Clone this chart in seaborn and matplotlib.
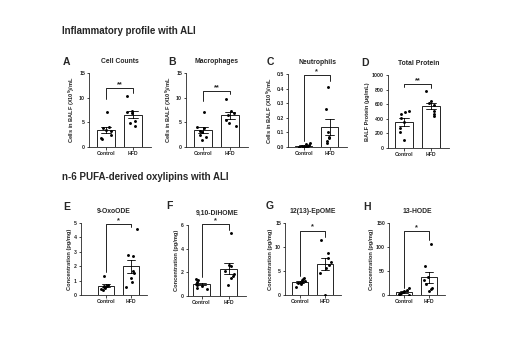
import numpy as np
import pandas as pd
import matplotlib
matplotlib.use("Agg")
import matplotlib.pyplot as plt
import seaborn as sns

sns.set_theme(style="ticks")
plt.rcParams['font.family'] = ['Liberation Sans', 'DejaVu Sans']
plt.rcParams['font.weight'] = 'bold'
plt.rcParams['axes.labelweight'] = 'bold'

groups = ["Control", "HFD"]

# ---- data ----
cell_ctrl = [7.1, 4.0, 3.8, 3.4, 3.2, 2.5, 1.8, 1.7]
cell_hfd = [10.3, 7.3, 7.0, 6.8, 5.3, 4.8, 4.3]
mac_ctrl = [7.0, 4.1, 3.8, 3.3, 3.0, 2.5, 2.0, 1.5]
mac_hfd = [9.8, 7.2, 6.8, 6.4, 5.5, 4.8, 4.2]
neu_ctrl = [0.03, 0.018, 0.012, 0.008, 0.005, 0.003, 0.001, 0.0]
neu_hfd = [0.41, 0.26, 0.10, 0.07, 0.04, 0.03, 0.06]
prot_ctrl = [510, 495, 470, 410, 350, 280, 225, 110]
prot_hfd = [775, 650, 610, 590, 510, 470, 445]
oxo_ctrl = [1.35, 0.72, 0.65, 0.60, 0.55, 0.50, 0.45, 0.38]
oxo_hfd = [4.6, 2.75, 2.7, 1.7, 1.5, 1.2, 0.9, 0.55]
dihome_ctrl = [1.4, 1.35, 1.2, 1.05, 0.95, 0.85, 0.7, 0.6]
dihome_hfd = [5.3, 2.65, 2.5, 2.1, 1.9, 1.7, 1.5, 0.9]
epome_ctrl = [3.5, 3.3, 3.1, 2.9, 2.7, 2.6, 2.2, 1.6]
epome_hfd = [11.5, 8.8, 7.8, 6.8, 6.3, 5.6, 4.6, 0.0]
hode_ctrl = [14, 10, 8, 6, 5, 3, 2, 1]
hode_hfd = [106, 61, 38, 31, 22, 15, 12, 8]

titles = ["Cell Counts", "Macrophages", "Neutrophils", "Total Protein",
          "9-OxoODE", "9,10-DiHOME", "12(13)-EpOME", "13-HODE"]
letters = ["A", "B", "C", "D", "E", "F", "G", "H"]
cells_lab = "Cells in BALF (X10$^{\\mathbf{5}}$)/mL"
ylabels = [cells_lab, cells_lab, cells_lab, "BALF Protein (µg/mL)",
           "Concentration (pg/mg)", "Concentration (pg/mg)",
           "Concentration (pg/mg)", "Concentration (pg/mg)"]
yticks = [[0, 5, 10, 15], [0, 5, 10, 15], [0.0, 0.1, 0.2, 0.3, 0.4, 0.5],
          [0, 200, 400, 600, 800, 1000], [0, 1, 2, 3, 4, 5], [0, 2, 4, 6],
          [0, 5, 10, 15], [0, 50, 100, 150]]
ytick_fmt = ["{:.0f}", "{:.0f}", "{:.1f}", "{:.0f}", "{:.0f}", "{:.0f}", "{:.0f}", "{:.0f}"]
stars = ["**", "**", "*", "**", "*", "*", "*", "*"]
# bracket: (height, left arm end, right arm end)
brackets = [(11.9, 9.7, 10.9), (11.3, 9.3, 10.7), (0.49, 0.04, 0.45),
            (880, 830, 820), (4.9, 1.6, 4.75), (6.1, 1.6, 5.6),
            (13.4, 4.0, 12.0), (133, 15, 115)]
datasets = [(cell_ctrl, cell_hfd), (mac_ctrl, mac_hfd), (neu_ctrl, neu_hfd),
            (prot_ctrl, prot_hfd), (oxo_ctrl, oxo_hfd), (dihome_ctrl, dihome_hfd),
            (epome_ctrl, epome_hfd), (hode_ctrl, hode_hfd)]

# ---- layout (pixels) ----
W, H, DPI = 510, 341, 100
fig = plt.figure(figsize=(W / DPI, H / DPI), dpi=DPI)
fig.patch.set_facecolor("white")

# x0, ytop, ybottom, xlim_left, px per unit
layout = [(89, 73, 147, -0.63, 27), (186, 73, 147, -0.63, 27),
          (288, 74, 147, -0.6, 26), (388, 75, 148, -0.6, 27),
          (81, 223, 295, -1.0, 25), (188, 225, 296, -0.5, 27),
          (285, 223, 295, -0.6, 25), (389, 223, 295, -0.6, 25)]
letter_pos = [(63, 62), (168, 62), (267, 62), (361, 63),
              (63, 207), (166, 206), (266, 206), (363, 207)]

fig.text(62 / W, 1 - 31 / H, "Inflammatory profile with ALI", fontsize=7.0,
         fontweight="bold", ha="left", va="center")
fig.text(62 / W, 1 - 177 / H, "n-6 PUFA-derived oxylipins with ALI", fontsize=7.0,
         fontweight="bold", ha="left", va="center")

np.random.seed(3)
lw = 0.6
for i, (ctrl, hfd) in enumerate(datasets):
    x0, yt, yb, xl, ppu = layout[i]
    xr = 1.65
    width_px = (xr - xl) * ppu
    ax = fig.add_axes([x0 / W, 1 - yb / H, width_px / W, (yb - yt) / H])
    df = pd.DataFrame({"group": [groups[0]] * len(ctrl) + [groups[1]] * len(hfd),
                       "value": list(ctrl) + list(hfd)})
    sns.barplot(data=df, x="group", y="value", order=groups, errorbar="se",
                color="white", edgecolor="black", linewidth=lw, width=0.65,
                capsize=0.35, err_kws={"color": "black", "linewidth": lw}, ax=ax)
    sns.stripplot(data=df, x="group", y="value", order=groups, color="black",
                  size=2.1, jitter=0.24, ax=ax, zorder=5)
    yt_list = yticks[i]
    ax.set_ylim(0, yt_list[-1])
    ax.set_xlim(xl, xr)
    ax.set_yticks(yt_list)
    ax.set_yticklabels([ytick_fmt[i].format(v) for v in yt_list])
    ax.tick_params(axis="both", labelsize=3.7, width=lw, length=1.8, pad=1)
    for lab in ax.get_xticklabels() + ax.get_yticklabels():
        lab.set_fontweight("bold")
    ax.set_xlabel("")
    ax.set_ylabel(ylabels[i], fontsize=4.1, fontweight="bold", labelpad=1.5)
    for s in ["top", "right"]:
        ax.spines[s].set_visible(False)
    for s in ["left", "bottom"]:
        ax.spines[s].set_linewidth(lw)
    ax.set_facecolor("white")
    ax.set_title(titles[i], fontsize=4.9, fontweight="bold", pad=7)
    # significance bracket
    hb, la, ra = brackets[i]
    ax.plot([0, 0, 1, 1], [la, hb, hb, ra], color="black", lw=lw, clip_on=False)
    ax.text(0.5, hb, stars[i], ha="center", va="bottom", fontsize=5.3,
            fontweight="bold", clip_on=False)
    lx, ly = letter_pos[i]
    fig.text(lx / W, 1 - ly / H, letters[i], fontsize=7.5, fontweight="bold",
             ha="left", va="center")

fig.savefig("out.png", dpi=DPI, facecolor="white")
